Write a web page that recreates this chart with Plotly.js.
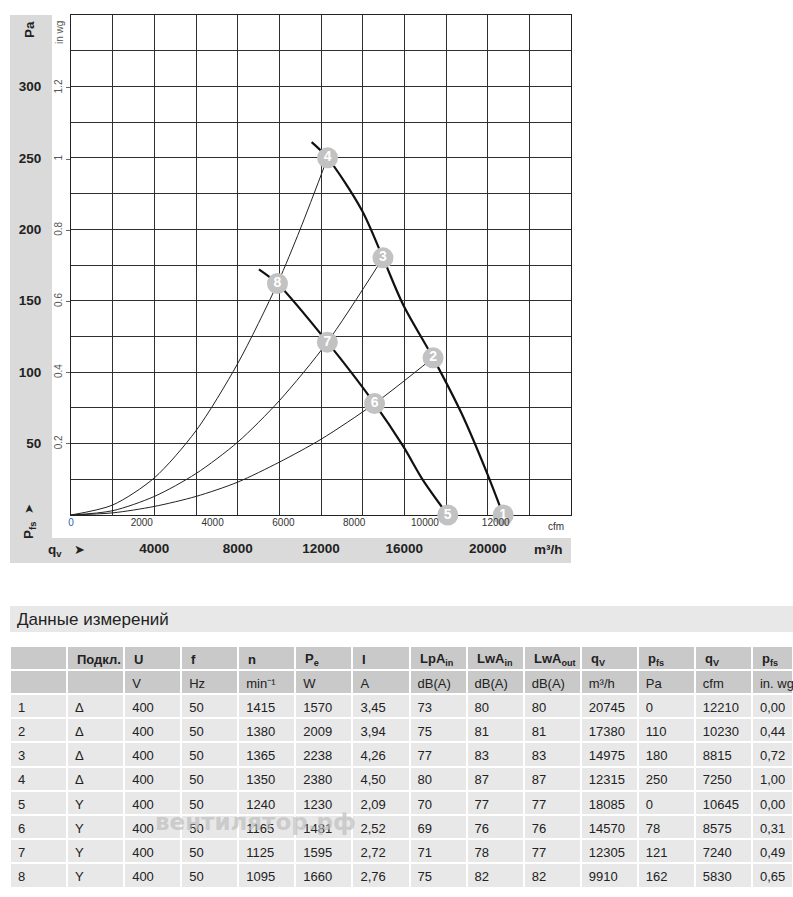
<!DOCTYPE html>
<html>
<head>
<meta charset="utf-8">
<script src="https://cdn.plot.ly/plotly-3.0.1.min.js"></script>
<style>
html,body{margin:0;padding:0;background:#fff;}
#chart{width:793px;height:897px;}
</style>
</head>
<body>
<div id="chart"></div>
<script>
// ---------- data ----------
var pointNo   = ['1','2','3','4','5','6','7','8'];
var conn      = ['Δ','Δ','Δ','Δ','Y','Y','Y','Y'];
var voltage   = ['400','400','400','400','400','400','400','400'];
var freq      = ['50','50','50','50','50','50','50','50'];
var speed     = ['1415','1380','1365','1350','1240','1165','1125','1095'];
var powerIn   = ['1570','2009','2238','2380','1230','1481','1595','1660'];
var current   = ['3,45','3,94','4,26','4,50','2,09','2,52','2,72','2,76'];
var lpaIn     = ['73','75','77','80','70','69','71','75'];
var lwaIn     = ['80','81','83','87','77','76','78','82'];
var lwaOut    = ['80','81','83','87','77','76','77','82'];
var qvM3h     = [20745,17380,14975,12315,18085,14570,12305,9910];
var pfsPa     = [0,110,180,250,0,78,121,162];
var qvCfm     = [12210,10230,8815,7250,10645,8575,7240,5830];
var pfsInwg   = [0.00,0.44,0.72,1.00,0.00,0.31,0.49,0.65];

// fan curves (thick)
var fanDeltaQ = [11550,12315,13954,14975,15950,17380,18750,19950,20745];
var fanDeltaP = [261,250,213.5,180,147,110,71,30,0];
var fanStarQ  = [9020,9910,12305,14570,15950,16910,18085];
var fanStarP  = [172,162,121,78,48,24,0];

// system curves (thin)
var sysAQ = [0,2000,4000,6000,8000,9910,11000,12315];
var sysAP = [0,7,26,59,106,162,200,250];
var sysBQ = [0,2000,4000,6000,8000,10000,12305,14975];
var sysBP = [0,3,13,29,51,80,121,180];
var sysCQ = [0,2000,4000,6000,8000,10000,12000,14570,17380];
var sysCP = [0,1.5,6,13,23,37,53,78,110];

// axis ticks
var m3hTickVals = [0,2000,4000,6000,8000,10000,12000,14000,16000,18000,20000,22000,24000];
var m3hTickText = ['','','4000','','8000','','12000','','16000','','20000','',''];
var cfmTickVals = [0,2000,4000,6000,8000,10000,12000];
var cfmTickText = ['<span style="color:#1f5fa8">0</span>','2000','4000','6000','8000','10000','12000'];
var paTickVals  = [0,25,50,75,100,125,150,175,200,225,250,275,300,325,350];
var paTickText  = ['','','50','','100','','150','','200','','250','','300','',''];
var inwgTickVals = [0.2,0.4,0.6,0.8,1.0,1.2];
var inwgTickText = ['0.2','0.4','0.6','0.8','1','1.2'];

// table header texts
var headerRow1 = ['', 'Подкл.', 'U', 'f', 'n', 'P<sub>e</sub>', 'I',
  'LpA<sub>in</sub>', 'LwA<sub>in</sub>', 'LwA<sub>out</sub>', 'q<sub>V</sub>',
  'p<sub>fs</sub>', 'q<sub>V</sub>', 'p<sub>fs</sub>'];
var headerRow2 = ['', '', 'V', 'Hz', 'min⁻¹', 'W', 'A', 'dB(A)', 'dB(A)', 'dB(A)',
  'm³/h', 'Pa', 'cfm', 'in.\u00a0wg'];
var columnWidths = [57,57,57,57,57,57,57,57,57,57,57,57,57,41];

// ---------- helpers ----------
var W = 793, H = 897;
function px(x){ return x / W; }
function py(y){ return 1 - y / H; }
var FONT = 'Liberation Sans, Arial, sans-serif';
var PA_PER_INWG = 249.0889;
var M3H_PER_CFM = 1.699011;

function ann(text, x, y, size, color, extra){
  var a = {text:text, x:px(x), y:py(y), xref:'paper', yref:'paper', showarrow:false,
           xanchor:'center', yanchor:'middle',
           font:{family:FONT, size:size, color:color}};
  if (extra) for (var k in extra) a[k] = extra[k];
  return a;
}

var thin = {color:'#222', width:1};
var thick = {color:'#111', width:2.2};

function fmtComma(v){ return v.toFixed(2).replace('.', ','); }

// table geometry (pixels)
var TABLE_X0 = 10, TABLE_X1 = W, TABLE_TOP = 646, TABLE_BOTTOM = 889;
var HEADER_H = 24, CELL_H = 24.2;

var traces = [
  {x:sysAQ, y:sysAP, type:'scatter', mode:'lines', line:Object.assign({shape:'spline', smoothing:0.8}, thin), hoverinfo:'skip'},
  {x:sysBQ, y:sysBP, type:'scatter', mode:'lines', line:Object.assign({shape:'spline', smoothing:0.8}, thin), hoverinfo:'skip'},
  {x:sysCQ, y:sysCP, type:'scatter', mode:'lines', line:Object.assign({shape:'spline', smoothing:0.8}, thin), hoverinfo:'skip'},
  {x:fanDeltaQ, y:fanDeltaP, type:'scatter', mode:'lines', line:Object.assign({shape:'spline', smoothing:0.9}, thick), hoverinfo:'skip'},
  {x:fanStarQ, y:fanStarP, type:'scatter', mode:'lines', line:Object.assign({shape:'spline', smoothing:0.8}, thick), hoverinfo:'skip'},
  // same operating points in cfm / in wg units (invisible) so the secondary axes are drawn
  {x:qvCfm, y:pfsInwg, xaxis:'x2', yaxis:'y2', type:'scatter', mode:'markers',
   marker:{size:1, opacity:0}, hoverinfo:'skip'},
  {x:qvM3h, y:pfsPa, type:'scatter', mode:'markers+text', text:pointNo, textposition:'middle center',
   cliponaxis:false,
   marker:{size:21, color:'#c2c2c2', line:{width:0}},
   textfont:{family:FONT, size:14, color:'#ffffff', weight:'bold'}, hoverinfo:'skip'},
  {type:'table',
   domain:{x:[px(TABLE_X0), 1], y:[py(TABLE_BOTTOM), py(TABLE_TOP)]},
   columnwidth:columnWidths,
   header:{
     values: headerRow1.map(function(v,i){ return ['', headerRow2[i]]; }),
     fill:{color:'#c9c9c9'},
     line:{color:'#ffffff', width:2},
     align:'left',
     height:HEADER_H,
     font:{family:FONT, size:13, color:'#222'}
   },
   cells:{
     values:[pointNo, conn, voltage, freq, speed, powerIn, current, lpaIn, lwaIn, lwaOut,
             qvM3h.map(String), pfsPa.map(String), qvCfm.map(String), pfsInwg.map(fmtComma)],
     fill:{color:'#e8e8e8'},
     line:{color:'#ffffff', width:2},
     align:'left',
     height:CELL_H,
     font:{family:FONT, size:13, color:'#222'}
   }
  }
];

// bold header labels of the first header row, placed at the table's column starts
var headerAnns = [];
var totalW = columnWidths.reduce(function(a,b){return a+b;}, 0);
var xCursor = TABLE_X0;
headerRow1.forEach(function(t, i){
  if (t) headerAnns.push(ann('<b>' + t + '</b>', xCursor + 8, TABLE_TOP + HEADER_H/2 + 1, 13, '#222', {xanchor:'left'}));
  xCursor += columnWidths[i] / totalW * (TABLE_X1 - TABLE_X0);
});

var gridColor = '#2e2e2e';
var layout = {
  width:W, height:H,
  margin:{l:0, r:0, t:0, b:0},
  paper_bgcolor:'#ffffff', plot_bgcolor:'#ffffff',
  showlegend:false,
  font:{family:FONT, color:'#222'},
  xaxis:{
    domain:[px(71), px(571)], range:[0,24000], anchor:'y',
    tickmode:'array', tickvals:m3hTickVals, ticktext:m3hTickText,
    showgrid:true, gridcolor:gridColor, gridwidth:1,
    showline:true, linecolor:'#222', linewidth:1, mirror:true,
    zeroline:false, ticks:'', layer:'below traces',
    tickfont:{family:FONT, size:13.5, color:'#222', weight:'bold'},
    ticklabelstandoff:21, fixedrange:true
  },
  xaxis2:{
    overlaying:'x', anchor:'y', side:'bottom',
    range:[0, 24000 / M3H_PER_CFM],
    tickmode:'array', tickvals:cfmTickVals, ticktext:cfmTickText,
    showgrid:false, zeroline:false, showline:false, ticks:'',
    tickfont:{family:FONT, size:10, color:'#333'}, fixedrange:true
  },
  yaxis:{
    domain:[py(515), py(15)], range:[0,350], anchor:'x',
    tickmode:'array', tickvals:paTickVals, ticktext:paTickText,
    showgrid:true, gridcolor:gridColor, gridwidth:1,
    showline:true, linecolor:'#222', linewidth:1, mirror:true,
    zeroline:false, ticks:'', layer:'below traces',
    tickfont:{family:FONT, size:13.5, color:'#222', weight:'bold'},
    ticklabelstandoff:26, fixedrange:true
  },
  yaxis2:{
    overlaying:'y', anchor:'x', side:'left',
    range:[0, 350 / PA_PER_INWG],
    tickmode:'array', tickvals:inwgTickVals, ticktext:inwgTickText,
    tickangle:-90, showgrid:false, zeroline:false, showline:false,
    ticks:'outside', ticklen:4, tickcolor:'#666', tickwidth:1,
    tickfont:{family:FONT, size:10, color:'#555'}, fixedrange:true
  },
  shapes:[
    {type:'rect', xref:'paper', yref:'paper', x0:px(10), x1:px(52), y0:py(563), y1:py(15),
     fillcolor:'#dadada', line:{width:0}, layer:'below'},
    {type:'rect', xref:'paper', yref:'paper', x0:px(10), x1:px(571), y0:py(563), y1:py(538),
     fillcolor:'#dadada', line:{width:0}, layer:'below'},
    {type:'rect', xref:'paper', yref:'paper', x0:px(10), x1:1, y0:py(632), y1:py(606),
     fillcolor:'#e8e8e8', line:{width:0}, layer:'below'}
  ],
  annotations:[
    ann('<b>Pa</b>', 30, 30, 13.5, '#222', {textangle:-90}),
    ann('in wg', 60, 33, 10, '#555', {textangle:-90}),
    ann('<b>P<sub>fs</sub></b>', 29, 530, 13.5, '#222', {textangle:-90}),
    ann('➤', 29, 509, 12, '#222', {textangle:-90, font:{family:'DejaVu Sans', size:12, color:'#222'}}),
    ann('<b>q<sub>v</sub></b>', 55, 550, 13.5, '#222'),
    ann('➤', 79, 549, 13, '#222', {font:{family:'DejaVu Sans', size:13, color:'#222'}}),
    ann('<b>m³/h</b>', 548, 549, 13.5, '#222'),
    ann('cfm', 556, 526, 10, '#333'),
    ann('Данные измерений', 15, 619, 17, '#222', {xanchor:'left'}),
    ann('<b>вентилятор.рф</b>', 255, 822, 23, 'rgba(190,190,190,0.7)',
        {font:{family:'DejaVu Sans', size:23, color:'rgba(190,190,190,0.7)'}})
  ].concat(headerAnns)
};

Plotly.newPlot('chart', traces, layout, {displayModeBar:false, staticPlot:true});
</script>
</body>
</html>
